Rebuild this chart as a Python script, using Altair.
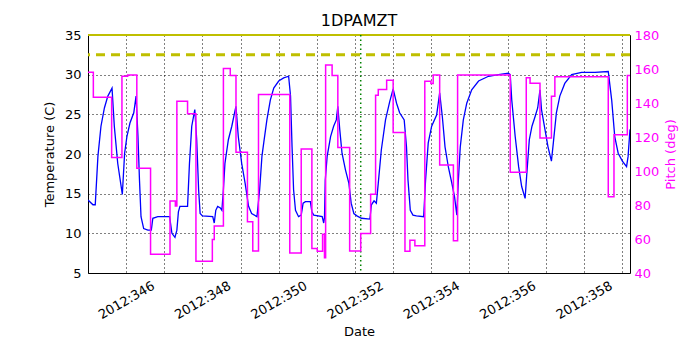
import altair as alt
import pandas as pd

# ---- data ----
temp_day = [345.0, 345.13, 345.19, 345.26, 345.34, 345.43, 345.52, 345.63, 345.69, 345.78,
            345.9, 345.96, 346.02, 346.1, 346.2, 346.26, 346.31, 346.35, 346.39, 346.46,
            346.57, 346.66, 346.7, 346.83, 347.14, 347.2, 347.28, 347.33, 347.37, 347.41,
            347.61, 347.66, 347.72, 347.8, 347.85, 347.9, 347.94, 348.0, 348.27, 348.31,
            348.35, 348.4, 348.47, 348.51, 348.55, 348.59, 348.68, 348.77, 348.86, 348.88,
            348.94, 349.03, 349.12, 349.21, 349.29, 349.43, 349.5, 349.56, 349.61, 349.69,
            349.78, 349.87, 350.0, 350.13, 350.26, 350.31, 350.35, 350.39, 350.44, 350.52,
            350.59, 350.64, 350.7, 350.83, 350.87, 350.92, 351.14, 351.18, 351.2, 351.22,
            351.27, 351.36, 351.44, 351.51, 351.55, 351.6, 351.66, 351.75, 351.84, 351.9,
            351.97, 352.05, 352.17, 352.39, 352.43, 352.5, 352.56, 352.61, 352.69, 352.8,
            352.91, 353.0, 353.09, 353.17, 353.29, 353.35, 353.39, 353.45, 353.52, 353.61,
            353.8, 353.85, 353.92, 354.01, 354.14, 354.22, 354.29, 354.36, 354.45, 354.54,
            354.61, 354.67, 354.71, 354.76, 354.84, 354.93, 355.06, 355.24, 355.5, 355.76,
            356.02, 356.07, 356.11, 356.2, 356.29, 356.37, 356.46, 356.5, 356.57, 356.64,
            356.72, 356.79, 356.85, 356.89, 356.98, 357.06, 357.15, 357.2, 357.28, 357.37,
            357.5, 357.68, 357.94, 358.29, 358.64, 358.73, 358.81, 358.9, 359.01, 359.12,
            359.16, 359.21]
temp_val = [14.2, 13.6, 13.6, 19.7, 23.5, 25.8, 27.3, 28.3, 23.5, 18.8,
            14.9, 20.1, 22.2, 23.9, 25.2, 27.3, 22.2, 16.7, 12.1, 10.6,
            10.4, 10.4, 11.9, 12.1, 12.1, 10.0, 9.5, 10.4, 12.7, 13.4,
            13.4, 18.8, 23.5, 25.6, 21.8, 15.5, 12.5, 12.2, 12.1, 11.3,
            12.9, 13.4, 13.2, 12.9, 15.5, 18.8, 21.8, 23.5, 25.6, 26.0,
            22.2, 18.8, 16.3, 13.4, 12.5, 12.1, 15.5, 19.7, 21.5, 24.3,
            26.8, 28.3, 29.2, 29.6, 29.8, 27.3, 20.9, 15.5, 12.9, 12.1,
            12.3, 13.8, 14.0, 14.0, 12.7, 12.3, 12.1, 11.3, 12.0, 16.7,
            19.7, 22.2, 23.5, 24.3, 26.0, 23.1, 20.1, 18.0, 16.3, 13.8,
            12.5, 12.2, 11.9, 11.8, 13.6, 14.1, 13.8, 16.3, 20.5, 24.3,
            26.6, 28.2, 26.4, 25.2, 24.3, 20.9, 16.7, 12.9, 12.3, 12.2,
            12.1, 16.7, 21.4, 23.5, 24.9, 27.7, 24.7, 20.9, 18.3, 16.3,
            14.6, 12.3, 16.7, 20.9, 24.3, 26.4, 28.1, 29.2, 29.8, 30.0,
            30.2, 30.0, 26.8, 22.2, 18.4, 15.9, 14.4, 17.2, 21.8, 23.5,
            24.7, 25.8, 28.1, 25.6, 23.1, 20.9, 19.1, 21.4, 25.2, 27.3,
            28.9, 30.0, 30.3, 30.3, 30.4, 26.8, 22.2, 20.1, 19.1, 18.4,
            19.7, 23.1]

pitch_day = [345.0, 345.14, 345.62, 345.89, 346.04, 346.28, 346.64, 347.15, 347.29, 347.33,
             347.61, 347.83, 348.26, 348.31, 348.55, 348.73, 348.88, 349.18, 349.32, 349.47,
             350.29, 350.59, 350.87, 351.01, 351.15, 351.2, 351.23, 351.4, 351.55, 351.86,
             352.15, 352.41, 352.54, 352.61, 352.83, 353.0, 353.31, 353.44, 353.57, 353.83,
             353.99, 354.05, 354.22, 354.58, 354.69, 356.07, 356.49, 356.59, 356.85, 357.15,
             357.24, 358.64, 358.79, 359.14, 359.21]
pitch_val = [158.1, 143.4, 108.0, 155.8, 156.4, 101.6, 51.0, 82.3, 79.4, 141.0,
             133.7, 46.9, 59.7, 67.6, 160.3, 156.2, 111.1, 70.1, 53.0, 145.0,
             51.8, 113.0, 54.4, 52.8, 62.8, 49.0, 162.3, 156.2, 113.8, 53.0,
             63.2, 86.3, 144.6, 147.9, 153.4, 122.7, 52.8, 59.3, 56.0, 152.8,
             151.4, 156.4, 103.6, 58.9, 156.4, 99.3, 154.8, 151.6, 119.4, 144.0,
             155.4, 84.9, 121.3, 156.2, 156.2]

x_ticks = list(range(345, 360))
temp_ticks = [5, 10, 15, 20, 25, 30, 35]
pitch_ticks = [40, 60, 80, 100, 120, 140, 160, 180]
limit_dashed = [32.5]
limit_top = [35.0]
marker_day = [352.15]

FONT = "DejaVu Sans"
MAGENTA = "#ff00ff"

xscale = alt.Scale(domain=[345.0, 359.21], nice=False, zero=False)
tscale = alt.Scale(domain=[5, 35], nice=False, zero=False)
pscale = alt.Scale(domain=[40, 180], nice=False, zero=False)

xaxis = alt.Axis(values=x_ticks, tickCount=40,
                 labelExpr="datum.value % 2 == 0 ? '2012:' + datum.value : ''",
                 labelAngle=330, labelAlign="center", labelBaseline="middle",
                 labelPadding=27, labelOverlap=False, labelFlush=False,
                 ticks=False, tickSize=0, domain=False,
                 grid=True, gridColor="black", gridDash=[1, 3], gridOpacity=1, gridWidth=1,
                 title="Date", titlePadding=4)
laxis = alt.Axis(values=temp_ticks, tickCount=20, labelPadding=7, ticks=False, tickSize=0,
                 domain=False, labelOverlap=False, labelFlush=False,
                 grid=True, gridColor="black", gridDash=[1, 3], gridOpacity=1, gridWidth=1,
                 title="Temperature (C)", titlePadding=8)
raxis = alt.Axis(values=pitch_ticks, tickCount=20, orient="right", labelPadding=4, ticks=False,
                 tickSize=0, domain=False, grid=False, labelOverlap=False, labelFlush=False,
                 labelColor=MAGENTA, titleColor=MAGENTA, titleAngle=270, titleBaseline="top",
                 title="Pitch (deg)", titlePadding=6)

temp_df = pd.DataFrame({"day": temp_day, "temp": temp_val})
pitch_df = pd.DataFrame({"day": pitch_day, "pitch": pitch_val})

temp_line = alt.Chart(temp_df).mark_line(color="#0000ff", strokeWidth=1.3, clip=True).encode(
    x=alt.X("day:Q", scale=xscale, axis=xaxis),
    y=alt.Y("temp:Q", scale=tscale, axis=laxis),
)
dashed = alt.Chart(pd.DataFrame({"temp": limit_dashed})).mark_rule(
    color="#bfbf00", strokeWidth=3, strokeDash=[9, 6]).encode(
    y=alt.Y("temp:Q", scale=tscale))
topline = alt.Chart(pd.DataFrame({"temp": limit_top})).mark_rule(
    color="#bfbf00", strokeWidth=2).encode(
    y=alt.Y("temp:Q", scale=tscale))
marker = alt.Chart(pd.DataFrame({"day": marker_day})).mark_rule(
    color="#008000", strokeWidth=1.5, strokeDash=[1.5, 3]).encode(
    x=alt.X("day:Q", scale=xscale))

temp_layer = alt.layer(temp_line, dashed, topline, marker)

pitch_line = alt.Chart(pitch_df).mark_line(color=MAGENTA, strokeWidth=1.5,
                                           interpolate="step-after", clip=True).encode(
    x=alt.X("day:Q", scale=xscale),
    y=alt.Y("pitch:Q", scale=pscale, axis=raxis),
)

chart = alt.layer(temp_layer, pitch_line).resolve_scale(y="independent").properties(
    width=542, height=238,
    title=alt.TitleParams("1DPAMZT", fontSize=16, font=FONT, fontWeight="normal",
                          anchor="middle", offset=0, color="black"),
    autosize=alt.AutoSizeParams(type="none"),
    padding={"left": 80, "top": 27, "right": 62, "bottom": 69},
).configure_view(stroke="black", strokeWidth=1).configure_axis(
    labelFont=FONT, labelFontSize=13, labelColor="black",
    titleFont=FONT, titleFontSize=13, titleFontWeight="normal", titleColor="black",
)

chart.save("out.html", embed_options={"renderer": "svg", "actions": False})
